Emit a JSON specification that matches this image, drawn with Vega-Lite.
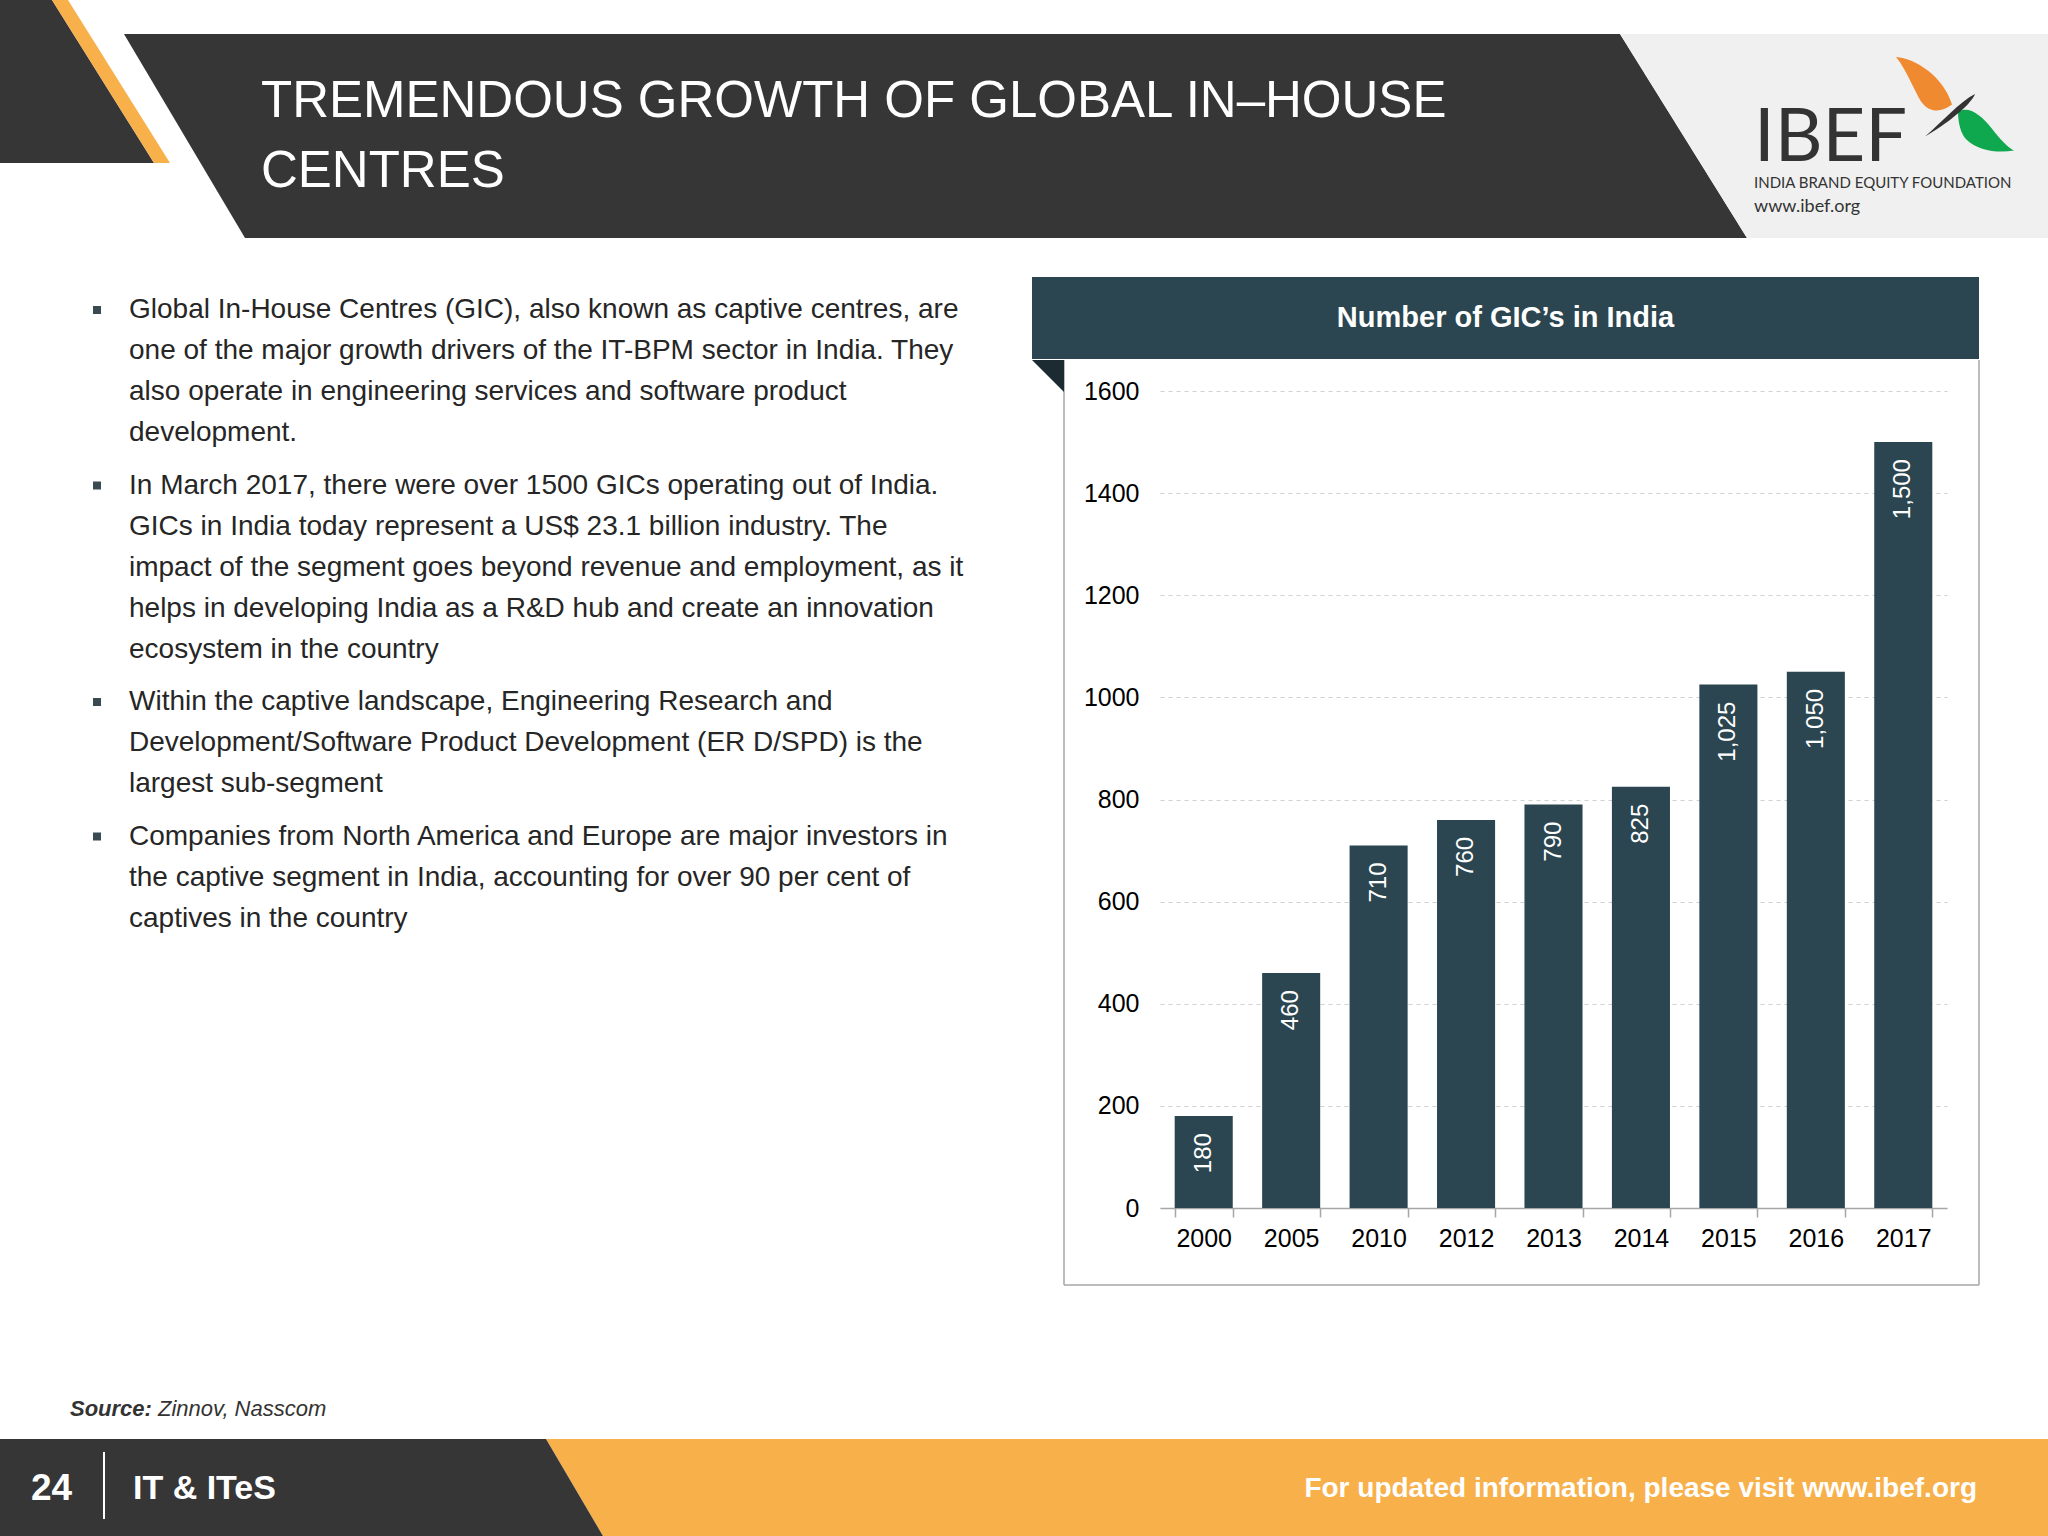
{
  "$schema": "https://vega.github.io/schema/vega-lite/v6.json",
  "background": "white",
  "padding": 0,
  "spacing": 39,
  "config": {"view": {"stroke": null}, "font": "Liberation Sans", "concat": {"spacing": 0}},
  "datasets": {
    "gic": [
      {"year": "2000", "count": 180},
      {"year": "2005", "count": 460},
      {"year": "2010", "count": 710},
      {"year": "2012", "count": 760},
      {"year": "2013", "count": 790},
      {"year": "2014", "count": 825},
      {"year": "2015", "count": 1025},
      {"year": "2016", "count": 1050},
      {"year": "2017", "count": 1500}
    ],
    "bullets": [
      {"p": 1, "line": 1, "text": "Global In-House Centres (GIC), also known as captive centres, are"},
      {"p": 1, "line": 2, "text": "one of the major growth drivers of the IT-BPM sector in India. They"},
      {"p": 1, "line": 3, "text": "also operate in engineering services and software product"},
      {"p": 1, "line": 4, "text": "development."},
      {"p": 2, "line": 1, "text": "In March 2017, there were over 1500 GICs operating out of India."},
      {"p": 2, "line": 2, "text": "GICs in India today represent a US$ 23.1 billion industry. The"},
      {"p": 2, "line": 3, "text": "impact of the segment goes beyond revenue and employment, as it"},
      {"p": 2, "line": 4, "text": "helps in developing India as a R&D hub and create an innovation"},
      {"p": 2, "line": 5, "text": "ecosystem in the country"},
      {"p": 3, "line": 1, "text": "Within the captive landscape, Engineering Research and"},
      {"p": 3, "line": 2, "text": "Development/Software Product Development (ER D/SPD) is the"},
      {"p": 3, "line": 3, "text": "largest sub-segment"},
      {"p": 4, "line": 1, "text": "Companies from North America and Europe are major investors in"},
      {"p": 4, "line": 2, "text": "the captive segment in India, accounting for over 90 per cent of"},
      {"p": 4, "line": 3, "text": "captives in the country"}
    ],
    "heading": [
      {"line": 1, "title": "TREMENDOUS GROWTH OF GLOBAL IN–HOUSE"},
      {"line": 2, "title": "CENTRES"}
    ],
    "blank": [{}]
  },
  "vconcat": [
    {
      "width": 2048, "height": 238,
      "layer": [
        {"data": {"name": "blank"}, "mark": {"type": "point", "filled": true, "opacity": 1, "color": "#363636", "size": 4000000, "shape": "M0,0 L0.052,0 L0.154,0.163 L0,0.163 Z"}, "encoding": {"x": {"value": 0}, "y": {"value": 0}}},
        {"data": {"name": "blank"}, "mark": {"type": "point", "filled": true, "opacity": 1, "color": "#f8b04a", "size": 4000000, "shape": "M0.052,0 L0.068,0 L0.170,0.163 L0.154,0.163 Z"}, "encoding": {"x": {"value": 0}, "y": {"value": 0}}},
        {"data": {"name": "blank"}, "mark": {"type": "point", "filled": true, "opacity": 1, "color": "#363636", "size": 4000000, "shape": "M0.124,0.034 L1.62,0.034 L1.747,0.238 L0.245,0.238 Z"}, "encoding": {"x": {"value": 0}, "y": {"value": 0}}},
        {"data": {"name": "blank"}, "mark": {"type": "point", "filled": true, "opacity": 1, "color": "#f0f0f0", "size": 4000000, "shape": "M1.62,0.034 L2.048,0.034 L2.048,0.238 L1.747,0.238 Z"}, "encoding": {"x": {"value": 0}, "y": {"value": 0}}},
        {
          "data": {"name": "heading"},
          "mark": {"type": "text", "align": "left", "baseline": "middle", "fontSize": 51, "color": "white"},
          "encoding": {
            "x": {"value": 261},
            "y": {"field": "line", "type": "ordinal", "axis": null, "scale": {"type": "point", "padding": 0, "range": [102, 172]}},
            "text": {"field": "title"}
          }
        },
        {"data": {"name": "blank"}, "mark": {"type": "text", "align": "left", "baseline": "alphabetic", "fontSize": 74, "font": "Lato", "color": "#333333"}, "encoding": {"x": {"value": 1754}, "y": {"value": 161}, "text": {"value": "IBEF"}}},
        {"data": {"name": "blank"}, "mark": {"type": "text", "align": "left", "baseline": "alphabetic", "fontSize": 15, "font": "Lato", "color": "#333333"}, "encoding": {"x": {"value": 1754}, "y": {"value": 188}, "text": {"value": "INDIA BRAND EQUITY FOUNDATION"}}},
        {"data": {"name": "blank"}, "mark": {"type": "text", "align": "left", "baseline": "alphabetic", "fontSize": 18, "font": "Lato", "color": "#333333"}, "encoding": {"x": {"value": 1754}, "y": {"value": 212}, "text": {"value": "www.ibef.org"}}},
        {"data": {"name": "blank"}, "mark": {"type": "point", "filled": true, "opacity": 1, "color": "#f08a30", "size": 3136, "shape": "M-1,-1 C-0.3,-0.95 0.7,-0.3 1,0.7 C0.6,1 0.2,1 -0.1,0.6 C-0.4,0.1 -0.6,-0.5 -1,-1 Z"}, "encoding": {"x": {"value": 1924}, "y": {"value": 85}}},
        {"data": {"name": "blank"}, "mark": {"type": "point", "filled": true, "opacity": 1, "color": "#10a84e", "size": 3136, "shape": "M-1,-0.7 C-0.6,-0.9 -0.2,-0.6 0.2,-0.1 C0.5,0.3 0.8,0.6 1,0.7 C0.4,0.8 -0.3,0.7 -0.7,0.3 C-0.9,0.1 -1,-0.3 -1,-0.7 Z"}, "encoding": {"x": {"value": 1986}, "y": {"value": 131}}},
        {"data": {"name": "blank"}, "mark": {"type": "point", "filled": true, "opacity": 1, "color": "#333333", "size": 2500, "shape": "M-1,0.9 C-0.3,0.3 0.4,-0.5 1,-0.8 C0.9,-0.5 0.2,0.2 -1,0.9 Z"}, "encoding": {"x": {"value": 1950}, "y": {"value": 114}}}
      ]
    },
    {
      "hconcat": [
        {
          "vconcat": [
            {"width": 1032, "height": 1, "data": {"name": "blank"}, "mark": {"type": "point", "size": 0, "opacity": 0}, "encoding": {}},
            {
              "width": 1032, "height": 164, "data": {"name": "bullets"}, "transform": [{"filter": "datum.p == 1"}],
              "encoding": {"y": {"field": "line", "type": "ordinal", "axis": null, "scale": {"type": "point", "padding": 0.5}}},
              "layer": [
                {"mark": {"type": "text", "align": "left", "baseline": "middle", "fontSize": 28, "color": "#262626"}, "encoding": {"x": {"value": 129}, "text": {"field": "text"}}},
                {"transform": [{"filter": "datum.line == 1"}], "mark": {"type": "point", "shape": "square", "filled": true, "opacity": 1, "size": 64, "color": "#3a4a52"}, "encoding": {"x": {"value": 97}}}
              ]
            },
            {
              "width": 1032, "height": 205, "data": {"name": "bullets"}, "transform": [{"filter": "datum.p == 2"}],
              "encoding": {"y": {"field": "line", "type": "ordinal", "axis": null, "scale": {"type": "point", "padding": 0.5}}},
              "layer": [
                {"mark": {"type": "text", "align": "left", "baseline": "middle", "fontSize": 28, "color": "#262626"}, "encoding": {"x": {"value": 129}, "text": {"field": "text"}}},
                {"transform": [{"filter": "datum.line == 1"}], "mark": {"type": "point", "shape": "square", "filled": true, "opacity": 1, "size": 64, "color": "#3a4a52"}, "encoding": {"x": {"value": 97}}}
              ]
            },
            {
              "width": 1032, "height": 123, "data": {"name": "bullets"}, "transform": [{"filter": "datum.p == 3"}],
              "encoding": {"y": {"field": "line", "type": "ordinal", "axis": null, "scale": {"type": "point", "padding": 0.5}}},
              "layer": [
                {"mark": {"type": "text", "align": "left", "baseline": "middle", "fontSize": 28, "color": "#262626"}, "encoding": {"x": {"value": 129}, "text": {"field": "text"}}},
                {"transform": [{"filter": "datum.line == 1"}], "mark": {"type": "point", "shape": "square", "filled": true, "opacity": 1, "size": 64, "color": "#3a4a52"}, "encoding": {"x": {"value": 97}}}
              ]
            },
            {
              "width": 1032, "height": 123, "data": {"name": "bullets"}, "transform": [{"filter": "datum.p == 4"}],
              "encoding": {"y": {"field": "line", "type": "ordinal", "axis": null, "scale": {"type": "point", "padding": 0.5}}},
              "layer": [
                {"mark": {"type": "text", "align": "left", "baseline": "middle", "fontSize": 28, "color": "#262626"}, "encoding": {"x": {"value": 129}, "text": {"field": "text"}}},
                {"transform": [{"filter": "datum.line == 1"}], "mark": {"type": "point", "shape": "square", "filled": true, "opacity": 1, "size": 64, "color": "#3a4a52"}, "encoding": {"x": {"value": 97}}}
              ]
            },
            {"width": 1032, "height": 333.5, "data": {"name": "blank"}, "mark": {"type": "point", "size": 0, "opacity": 0}, "encoding": {}}
          ],
          "spacing": 11.5,
          "bounds": "flush"
        },
        {
          "vconcat": [
            {
              "width": 787, "height": 82,
              "data": {"name": "blank"},
              "layer": [
                {"mark": {"type": "rect", "color": "#2b4650"}, "encoding": {"x": {"value": -128}, "x2": {"value": 819}, "y": {"value": 0}, "y2": {"value": 82}}},
                {"mark": {"type": "text", "fontSize": 29, "fontWeight": "bold", "color": "white", "align": "center", "baseline": "middle"}, "encoding": {"x": {"value": 345.5}, "y": {"value": 41}, "text": {"value": "Number of GIC’s in India"}}}
              ]
            },
            {
              "width": 787, "height": 817,
              "encoding": {
                "x": {
                  "field": "year", "type": "ordinal", "title": null,
                  "scale": {"paddingInner": 0.336, "paddingOuter": 0.168},
                  "axis": {"labelAngle": 0, "labelFontSize": 25, "labelColor": "#000000", "labelPadding": 9, "tickBand": "extent", "tickSize": 9, "tickColor": "#a6a6a6", "tickWidth": 1.5, "domainColor": "#a6a6a6", "domainWidth": 1.5, "grid": false}
                },
                "y": {
                  "field": "count", "type": "quantitative", "title": null,
                  "scale": {"domain": [0, 1600]},
                  "axis": {"values": [0, 200, 400, 600, 800, 1000, 1200, 1400, 1600], "format": "d", "labelFontSize": 25, "labelColor": "#000000", "labelPadding": 21, "ticks": false, "domain": false, "gridColor": "#d0d0d0", "gridDash": [4, 4], "gridWidth": 1, "minExtent": 128}
                }
              },
              "layer": [
                {"data": {"name": "blank"}, "mark": {"type": "rule", "color": "#a6a6a6", "strokeWidth": 1.5}, "encoding": {"x": {"value": -96}, "y": {"value": -31}, "y2": {"value": 894}}},
                {"data": {"name": "blank"}, "mark": {"type": "rule", "color": "#a6a6a6", "strokeWidth": 1.5}, "encoding": {"x": {"value": 819}, "y": {"value": -31}, "y2": {"value": 894}}},
                {"data": {"name": "blank"}, "mark": {"type": "rule", "color": "#a6a6a6", "strokeWidth": 1.5}, "encoding": {"x": {"value": -96}, "x2": {"value": 819}, "y": {"value": 894}}},
                {"data": {"name": "blank"}, "mark": {"type": "point", "filled": true, "opacity": 1, "color": "#1b2b31", "size": 4096, "shape": "M0,0 L1,0 L1,1 Z"}, "encoding": {"x": {"value": -128}, "y": {"value": -31}}},
                {"data": {"name": "gic"}, "mark": {"type": "bar", "color": "#2b4650"}},
                {"data": {"name": "gic"}, "mark": {"type": "text", "color": "white", "angle": 270, "align": "right", "baseline": "middle", "dx": -17, "fontSize": 24}, "encoding": {"text": {"field": "count", "type": "quantitative", "format": ","}}}
              ]
            }
          ],
          "spacing": 0
        }
      ],
      "spacing": 0
    },
    {
      "vconcat": [
        {
          "width": 2048, "height": 114, "data": {"name": "blank"},
          "layer": [
            {"mark": {"type": "text", "align": "left", "baseline": "middle", "fontSize": 22, "fontStyle": "italic", "fontWeight": "bold", "color": "#333333"}, "encoding": {"x": {"value": 70}, "y": {"value": 84}, "text": {"value": "Source:"}}},
            {"mark": {"type": "text", "align": "left", "baseline": "middle", "fontSize": 22, "fontStyle": "italic", "color": "#333333"}, "encoding": {"x": {"value": 158}, "y": {"value": 84}, "text": {"value": "Zinnov, Nasscom"}}}
          ]
        },
        {
          "width": 2048, "height": 97, "data": {"name": "blank"},
          "layer": [
            {"mark": {"type": "point", "filled": true, "opacity": 1, "color": "#f8b04a", "size": 4000000, "shape": "M0.546,0 L2.048,0 L2.048,0.097 L0.603,0.097 Z"}, "encoding": {"x": {"value": 0}, "y": {"value": 0}}},
            {"mark": {"type": "point", "filled": true, "opacity": 1, "color": "#363636", "size": 4000000, "shape": "M0,0 L0.546,0 L0.603,0.097 L0,0.097 Z"}, "encoding": {"x": {"value": 0}, "y": {"value": 0}}},
            {"mark": {"type": "text", "align": "left", "baseline": "middle", "fontSize": 37, "fontWeight": "bold", "color": "white"}, "encoding": {"x": {"value": 31}, "y": {"value": 50}, "text": {"value": "24"}}},
            {"mark": {"type": "rule", "color": "white", "strokeWidth": 2}, "encoding": {"x": {"value": 104}, "y": {"value": 13}, "y2": {"value": 80}}},
            {"mark": {"type": "text", "align": "left", "baseline": "middle", "fontSize": 34, "fontWeight": "bold", "color": "white"}, "encoding": {"x": {"value": 133}, "y": {"value": 50}, "text": {"value": "IT & ITeS"}}},
            {"mark": {"type": "text", "align": "right", "baseline": "middle", "fontSize": 28, "fontWeight": "bold", "color": "white"}, "encoding": {"x": {"value": 1977}, "y": {"value": 50}, "text": {"value": "For updated information, please visit www.ibef.org"}}}
          ]
        }
      ],
      "spacing": 0,
      "bounds": "flush"
    }
  ]
}
